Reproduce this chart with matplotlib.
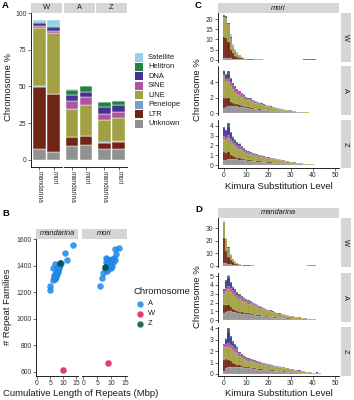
import numpy as np
import matplotlib
matplotlib.use("Agg")
import matplotlib.pyplot as plt
from matplotlib.patches import Rectangle
from matplotlib.lines import Line2D

plt.rcParams['font.family'] = ['Liberation Sans', 'DejaVu Sans']

# ---------------- DATA ----------------
classes = ["Satellite", "Helitron", "DNA", "SINE", "LINE", "Penelope", "LTR", "Unknown"]
class_colors = {"Satellite": "#88CCEE", "Helitron": "#117733", "DNA": "#332288",
                "SINE": "#AA4499", "LINE": "#999933", "Penelope": "#6699CC",
                "LTR": "#661100", "Unknown": "#888888"}

# Panel A: order = W-mandarina, W-mori, A-mandarina, A-mori, Z-mandarina, Z-mori
chrom_facets = ["W", "A", "Z"]
species = ["mandarina", "mori"]
a_unknown = [7.5, 5.5, 9.8, 10.0, 7.5, 7.5]
a_ltr = [42.3, 39.3, 5.5, 6.5, 4.3, 5.0]
a_penelope = [0.2, 0.2, 0.1, 0.1, 0.1, 0.1]
a_line = [40.0, 41.5, 19.5, 20.5, 15.5, 16.0]
a_sine = [1.5, 1.5, 5.0, 5.5, 4.0, 4.0]
a_dna = [1.5, 2.5, 4.5, 3.5, 4.5, 4.5]
a_helitron = [1.0, 0.5, 3.5, 4.0, 3.5, 3.0]
a_satellite = [1.5, 4.5, 0.3, 0.3, 0.2, 0.2]

# Panel B: (cumulative length Mbp, # repeat families)
b_mand_A_x = [13.6, 10.8, 11.4, 6.1, 5.1, 5.1, 9.2, 8.9, 8.5, 8.2, 7.9, 8.1, 7.6, 7.8, 7.4, 7.6, 7.2,
              7.4, 7.0, 6.9, 6.75, 6.1, 8.0, 7.7, 7.1, 6.6, 6.4]
b_mand_A_y = [1557, 1495, 1444, 1294, 1249, 1219, 1418, 1405, 1395, 1385, 1375, 1365, 1358, 1350, 1342,
              1334, 1326, 1318, 1310, 1302, 1412, 1380, 1400, 1372, 1345, 1330, 1312]
b_mand_W = (9.9, 615)
b_mand_Z = (8.6, 1422)
b_mori_A_x = [12.8, 11.5, 11.8, 6.1, 6.7, 7.2, 8.0, 8.5, 9.0, 9.5, 10.2, 10.8, 11.2, 8.3, 9.2, 10.0,
              10.6, 8.6, 9.6, 10.4, 8.8, 9.8, 8.2, 9.0, 7.6, 8.4, 9.4]
b_mori_A_y = [1537, 1525, 1487, 1249, 1307, 1345, 1460, 1450, 1445, 1440, 1452, 1455, 1445, 1430, 1425,
              1420, 1430, 1410, 1405, 1400, 1395, 1385, 1380, 1375, 1372, 1360, 1415]
b_mori_W = (8.8, 665)
b_mori_Z = (7.8, 1390)

# Kimura landscapes (percent of chromosome per substitution-level bin, bins 0,1,2,...)
mori_W_unknown = [1.0, 1.0, 0.9, 0.8, 0.6, 0.5, 0.4, 0.3, 0.25, 0.2, 0.15, 0.12, 0.1, 0.08, 0.07, 0.06, 0.05, 0.05,
                  0.04, 0.04, 0.03, 0.03, 0.03, 0.03, 0.02, 0.02, 0.02, 0.02, 0.02, 0.02, 0.02, 0.02, 0.02, 0.01,
                  0.01, 0.01, 0.01, 0.01, 0.01, 0.01, 0.01, 0.01, 0.01]
mori_W_ltr = [10.4, 9.6, 8.0, 4.1, 2.7, 1.5, 0.9, 0.6, 0.5, 0.35, 0.25, 0.15, 0.1, 0.08, 0.05, 0.04, 0.03, 0.03,
              0.02, 0.02, 0.02, 0.02, 0.02, 0.02, 0.02, 0.02, 0.02, 0.02, 0.02, 0.02, 0.02, 0.02, 0.02, 0.03,
              0.05, 0.08, 0.12, 0.2, 0.3, 0.3, 0.25, 0.2, 0.1, 0.05]
mori_W_line = [9.3, 9.7, 8.2, 5.5, 3.2, 2.6, 1.9, 1.2, 0.6, 0.3, 0.15, 0.1, 0.08, 0.07, 0.06, 0.06, 0.05, 0.05,
               0.05, 0.04, 0.04, 0.04, 0.04, 0.03, 0.03, 0.03, 0.03, 0.03, 0.03, 0.02, 0.02, 0.02, 0.02, 0.02,
               0.02, 0.02, 0.01, 0.01, 0.01, 0.01, 0.01]
mori_W_sine = [0.4, 0.4, 0.3, 0.3, 0.2, 0.1, 0.1, 0.05, 0.05, 0.03, 0.02, 0.02]
mori_W_dna = [0.6, 0.5, 0.5, 0.4, 0.2, 0.1, 0.1, 0.05, 0.05, 0.03, 0.02]
mori_W_helitron = [0.1, 0.1, 0.1, 0.1, 0.05, 0.03, 0.02]
mori_W_satellite = [0.2, 0.2, 0.2, 1.3, 0.6, 0.4, 0.2, 0.1, 0.05, 0.03]

mori_A_unknown = [0.7, 0.8, 0.9, 0.9, 0.9, 0.9, 0.9, 0.85, 0.8, 0.75, 0.7, 0.65, 0.6, 0.55, 0.5, 0.48, 0.45, 0.42,
                  0.4, 0.37, 0.35, 0.32, 0.3, 0.28, 0.26, 0.24, 0.22, 0.2, 0.18, 0.16, 0.15, 0.13, 0.11, 0.1,
                  0.09, 0.08, 0.07, 0.06, 0.05, 0.04, 0.03, 0.03, 0.02, 0.01, 0.01]
mori_A_ltr = [1.3, 1.2, 1.1, 0.6, 0.4, 0.3, 0.25, 0.2, 0.18, 0.15, 0.12, 0.1, 0.08, 0.07, 0.06, 0.05, 0.04, 0.04,
              0.03, 0.03, 0.03, 0.02, 0.02, 0.02, 0.02, 0.02, 0.02, 0.01, 0.01, 0.01, 0.01]
mori_A_line = [2.8, 2.0, 2.1, 2.0, 1.8, 1.6, 1.33, 1.32, 1.15, 1.08, 0.91, 0.92, 0.93, 0.85, 0.8, 0.75, 0.7, 0.65,
               0.58, 0.53, 0.48, 0.43, 0.4, 0.36, 0.32, 0.29, 0.26, 0.23, 0.21, 0.19, 0.17, 0.15, 0.13, 0.11,
               0.1, 0.09, 0.07, 0.06, 0.05, 0.04, 0.03, 0.02, 0.015, 0.01, 0.005]
mori_A_sine = [0.3, 0.4, 0.5, 0.5, 0.5, 0.45, 0.4, 0.35, 0.3, 0.28, 0.25, 0.22, 0.2, 0.18, 0.16, 0.15, 0.13, 0.12,
               0.1, 0.09, 0.08, 0.07, 0.06, 0.05, 0.04, 0.04, 0.03, 0.03, 0.02, 0.02, 0.02, 0.01, 0.01]
mori_A_dna = [0.3, 0.6, 0.5, 0.4, 0.2, 0.15, 0.12, 0.1, 0.1, 0.08, 0.07, 0.06, 0.05, 0.05, 0.04, 0.04, 0.03, 0.03,
              0.03, 0.02, 0.02, 0.02, 0.02, 0.02, 0.01, 0.01, 0.01]
mori_A_helitron = [0.1, 0.1, 0.3, 0.1, 0.1, 0.1, 0.1, 0.08, 0.07, 0.06, 0.05, 0.05, 0.04, 0.04, 0.03, 0.03, 0.02,
                   0.02, 0.02, 0.02, 0.01, 0.01, 0.01]
mori_A_satellite = [0.02, 0.02, 0.02, 0.02, 0.02, 0.02, 0.02, 0.02, 0.02, 0.02, 0.02, 0.02, 0.02, 0.02, 0.02, 0.02,
                    0.03, 0.03, 0.03, 0.03, 0.03, 0.03, 0.03, 0.03, 0.03, 0.02, 0.02, 0.02]

mori_Z_unknown = [0.5, 0.55, 0.6, 0.6, 0.6, 0.6, 0.58, 0.55, 0.52, 0.5, 0.48, 0.45, 0.43, 0.4, 0.38, 0.36, 0.34,
                  0.32, 0.3, 0.28, 0.26, 0.25, 0.23, 0.22, 0.2, 0.19, 0.17, 0.16, 0.14, 0.13, 0.12, 0.1, 0.09, 0.08,
                  0.07, 0.06, 0.05, 0.04, 0.04, 0.03, 0.03, 0.02, 0.02, 0.02, 0.01]
mori_Z_ltr = [0.8, 0.7, 0.75, 0.45, 0.3, 0.2, 0.15, 0.12, 0.1, 0.08, 0.07, 0.06, 0.05, 0.05, 0.04, 0.04, 0.03,
              0.03, 0.03, 0.02, 0.02, 0.02, 0.02, 0.02, 0.01, 0.01, 0.01, 0.01, 0.01, 0.01]
mori_Z_line = [1.4, 1.3, 1.4, 1.3, 1.2, 1.1, 1.05, 1.0, 0.9, 0.8, 0.72, 0.66, 0.64, 0.6, 0.55, 0.52, 0.5, 0.47,
               0.44, 0.42, 0.4, 0.38, 0.36, 0.34, 0.32, 0.3, 0.28, 0.26, 0.24, 0.22, 0.2, 0.18, 0.16, 0.14, 0.12,
               0.1, 0.08, 0.07, 0.06, 0.05, 0.04, 0.03, 0.03, 0.02, 0.01]
mori_Z_sine = [0.3, 0.3, 0.35, 0.35, 0.35, 0.35, 0.3, 0.28, 0.22, 0.2, 0.18, 0.16, 0.15, 0.14, 0.13, 0.12, 0.11,
               0.1, 0.09, 0.08, 0.08, 0.07, 0.06, 0.06, 0.05, 0.05, 0.04, 0.04, 0.03, 0.03, 0.02, 0.02, 0.02,
               0.01, 0.01]
mori_Z_dna = [0.8, 0.7, 0.8, 0.55, 0.35, 0.25, 0.2, 0.15, 0.1, 0.08, 0.06, 0.05, 0.05, 0.04, 0.04, 0.03, 0.03,
              0.03, 0.02, 0.02, 0.02, 0.02, 0.01, 0.01, 0.01]
mori_Z_helitron = [0.1, 0.05, 0.4, 0.15, 0.1, 0.1, 0.1, 0.1, 0.06, 0.05, 0.05, 0.04, 0.04, 0.03, 0.03, 0.03, 0.02,
                   0.02, 0.02, 0.02, 0.01]
mori_Z_satellite = [0.02, 0.02, 0.02, 0.02, 0.02, 0.02, 0.02, 0.02, 0.02, 0.02, 0.02, 0.02, 0.02, 0.02, 0.02,
                    0.02, 0.02, 0.03, 0.03, 0.03, 0.03, 0.03, 0.03, 0.03, 0.03, 0.02, 0.02, 0.02]

mand_W_unknown = [2.0, 2.0, 1.8, 1.5, 1.0, 0.8, 0.6, 0.4, 0.3, 0.2, 0.15, 0.12, 0.1, 0.08, 0.06, 0.05, 0.04, 0.04,
                  0.03, 0.03, 0.03, 0.02, 0.02, 0.02, 0.02, 0.02, 0.02, 0.02, 0.02, 0.02, 0.02, 0.02, 0.01, 0.01,
                  0.01, 0.01, 0.01, 0.01, 0.01, 0.01, 0.01, 0.01, 0.01]
mand_W_ltr = [20.0, 9.5, 5.5, 3.5, 1.8, 1.0, 0.6, 0.4, 0.3, 0.2, 0.15, 0.1, 0.08, 0.06, 0.05, 0.04, 0.03, 0.03,
              0.02, 0.02, 0.02, 0.02, 0.02, 0.02, 0.02, 0.02, 0.02, 0.02, 0.02, 0.02]
mand_W_line = [12.5, 9.3, 7.0, 3.3, 2.2, 1.4, 0.9, 0.6, 0.35, 0.25, 0.2, 0.15, 0.12, 0.1, 0.08, 0.07, 0.06, 0.05,
               0.05, 0.04, 0.04, 0.04, 0.03, 0.03, 0.03, 0.03, 0.02, 0.02, 0.02, 0.02, 0.02, 0.02, 0.02, 0.01,
               0.01, 0.01, 0.01, 0.01, 0.01, 0.01]
mand_W_sine = [0.3, 0.5, 0.3, 0.2, 0.1, 0.05, 0.03, 0.02, 0.0, 0.0, 0.0, 0.0, 0.0, 0.0, 0.0, 0.0, 0.0, 0.0, 0.0,
               0.0, 0.0, 0.0, 0.0, 0.0, 0.0, 0.0, 0.0, 0.0, 0.0, 0.0, 0.0, 0.0, 0.0, 0.0, 0.0, 0.0, 0.0, 0.0,
               0.2, 0.3, 0.2, 0.2, 0.1]
mand_W_dna = [0.5, 0.4, 0.3, 0.2, 0.1, 0.05, 0.03]
mand_W_helitron = [0.1, 0.1, 0.05, 0.05, 0.03]
mand_W_satellite = [0.1, 0.3, 0.1, 0.3, 0.3, 0.2, 0.1, 0.05]

mand_A_unknown = [0.8, 0.9, 1.0, 1.0, 0.95, 0.9, 0.85, 0.8, 0.75, 0.72, 0.7, 0.67, 0.64, 0.6, 0.57, 0.54, 0.5,
                  0.47, 0.44, 0.41, 0.38, 0.36, 0.33, 0.31, 0.28, 0.26, 0.24, 0.22, 0.21, 0.19, 0.18, 0.16, 0.15,
                  0.13, 0.12, 0.11, 0.09, 0.08, 0.07, 0.06, 0.05, 0.04, 0.03, 0.02, 0.01]
mand_A_ltr = [0.9, 0.85, 0.7, 0.5, 0.35, 0.25, 0.2, 0.17, 0.15, 0.13, 0.12, 0.1, 0.09, 0.08, 0.07, 0.06, 0.06,
              0.05, 0.05, 0.04, 0.04, 0.04, 0.03, 0.03, 0.03, 0.03, 0.02, 0.02, 0.02, 0.02, 0.02, 0.01, 0.01,
              0.01, 0.01, 0.01]
mand_A_line = [1.3, 1.6, 1.8, 1.7, 1.65, 1.55, 1.45, 1.4, 1.3, 1.25, 1.2, 1.12, 1.07, 1.02, 0.97, 0.92, 0.86,
               0.8, 0.74, 0.68, 0.62, 0.58, 0.54, 0.5, 0.45, 0.4, 0.37, 0.34, 0.31, 0.28, 0.26, 0.24, 0.22, 0.2,
               0.18, 0.16, 0.14, 0.12, 0.1, 0.09, 0.08, 0.06, 0.04, 0.03, 0.02]
mand_A_sine = [0.3, 0.3, 0.35, 0.4, 0.45, 0.45, 0.4, 0.35, 0.33, 0.3, 0.27, 0.25, 0.23, 0.21, 0.19, 0.17, 0.15,
               0.14, 0.13, 0.12, 0.11, 0.1, 0.09, 0.08, 0.08, 0.07, 0.06, 0.06, 0.05, 0.05, 0.05, 0.04, 0.04,
               0.03, 0.03, 0.03, 0.02, 0.02, 0.02, 0.01, 0.01]
mand_A_dna = [0.2, 0.8, 0.9, 0.6, 0.3, 0.25, 0.2, 0.15, 0.12, 0.1, 0.08, 0.07, 0.06, 0.05, 0.05, 0.04, 0.04,
              0.03, 0.03, 0.03, 0.02, 0.02, 0.02, 0.02, 0.01, 0.01, 0.01, 0.01]
mand_A_helitron = [0.05, 0.05, 0.3, 0.1, 0.1, 0.1, 0.1, 0.08, 0.07, 0.06, 0.05, 0.05, 0.04, 0.04, 0.03, 0.03,
                   0.03, 0.03, 0.02, 0.02, 0.02, 0.01, 0.01]
mand_A_satellite = [0.02, 0.02, 0.02, 0.02, 0.02, 0.02, 0.02, 0.02, 0.02, 0.02, 0.02, 0.02, 0.02, 0.02, 0.02,
                    0.03, 0.03, 0.03, 0.03, 0.03, 0.03, 0.03, 0.03, 0.03, 0.03, 0.03, 0.03, 0.02, 0.02, 0.02]

mand_Z_unknown = [0.3, 0.5, 0.6, 0.65, 0.65, 0.65, 0.62, 0.6, 0.57, 0.55, 0.52, 0.5, 0.48, 0.45, 0.43, 0.41,
                  0.39, 0.37, 0.35, 0.33, 0.32, 0.3, 0.29, 0.27, 0.26, 0.24, 0.23, 0.21, 0.2, 0.18, 0.17, 0.15,
                  0.14, 0.12, 0.11, 0.1, 0.08, 0.07, 0.06, 0.05, 0.05, 0.04, 0.03, 0.02, 0.01]
mand_Z_ltr = [0.95, 0.8, 0.6, 0.45, 0.35, 0.25, 0.2, 0.15, 0.12, 0.1, 0.08, 0.07, 0.06, 0.05, 0.05, 0.04, 0.04,
              0.03, 0.03, 0.03, 0.03, 0.02, 0.02, 0.02, 0.02, 0.02, 0.02, 0.02, 0.01, 0.01, 0.01]
mand_Z_line = [1.1, 1.1, 1.2, 1.15, 1.1, 1.05, 1.0, 0.8, 0.7, 0.65, 0.62, 0.58, 0.56, 0.54, 0.52, 0.5, 0.48,
               0.46, 0.44, 0.42, 0.4, 0.39, 0.37, 0.35, 0.34, 0.32, 0.31, 0.29, 0.27, 0.26, 0.24, 0.22, 0.2,
               0.18, 0.16, 0.15, 0.13, 0.11, 0.09, 0.08, 0.06, 0.05, 0.04, 0.03, 0.02]
mand_Z_sine = [0.15, 0.25, 0.3, 0.3, 0.35, 0.35, 0.33, 0.25, 0.22, 0.2, 0.18, 0.16, 0.15, 0.14, 0.13, 0.12, 0.11,
               0.1, 0.1, 0.09, 0.09, 0.08, 0.08, 0.07, 0.07, 0.06, 0.06, 0.05, 0.05, 0.05, 0.04, 0.04, 0.03,
               0.03, 0.03, 0.02, 0.02, 0.02, 0.01, 0.01]
mand_Z_dna = [0.1, 0.4, 1.0, 0.65, 0.3, 0.2, 0.15, 0.1, 0.08, 0.06, 0.05, 0.05, 0.04, 0.04, 0.03, 0.03, 0.03,
              0.02, 0.02, 0.02, 0.02, 0.02, 0.01, 0.01, 0.01, 0.01, 0.01, 0.01, 0.01, 0.01, 0.01, 0.01, 0.01,
              0.01, 0.01, 0.01, 0.01, 0.01, 0.01, 0.01, 0.01, 0.01, 0.08, 0.05]
mand_Z_helitron = [0.02, 0.05, 0.3, 0.1, 0.1, 0.1, 0.1, 0.05, 0.04, 0.04, 0.05, 0.04, 0.04, 0.03, 0.03, 0.03,
                   0.02, 0.02, 0.02, 0.02, 0.02, 0.01, 0.01]
mand_Z_satellite = [0.02, 0.02, 0.02, 0.02, 0.02, 0.02, 0.02, 0.02, 0.02, 0.02, 0.02, 0.02, 0.02, 0.02, 0.02,
                    0.02, 0.03, 0.03, 0.03, 0.03, 0.03, 0.03, 0.03, 0.02, 0.02, 0.02]

# ---------------- LAYOUT HELPERS ----------------
W_PX, H_PX = 354, 400
fig = plt.figure(figsize=(W_PX / 100, H_PX / 100), dpi=100)
fig.patch.set_facecolor("white")

TICK_FS = 4.9
LAB_FS = 6.8
STRIP_FS = 5.4
LEG_FS = 5.4


def rect(x0, y0, x1, y1):
    return [x0 / W_PX, 1 - y1 / H_PX, (x1 - x0) / W_PX, (y1 - y0) / H_PX]


def fx(x):
    return x / W_PX


def fy(y):
    return 1 - y / H_PX


def style_ax(ax, left=True, bottom=True):
    for s in ["top", "right"]:
        ax.spines[s].set_visible(False)
    ax.spines["left"].set_visible(left)
    ax.spines["bottom"].set_visible(bottom)
    for s in ["left", "bottom"]:
        ax.spines[s].set_linewidth(0.6)
    ax.tick_params(axis="both", labelsize=TICK_FS, length=2, width=0.5, pad=1.2, colors="#333333",
                   labelcolor="#333333")
    if not left:
        ax.tick_params(axis="y", left=False, labelleft=False)
    if not bottom:
        ax.tick_params(axis="x", bottom=False, labelbottom=False)
    ax.set_facecolor("white")


def strip(x0, y0, x1, y1, text, italic=False, rotate=False):
    sa = fig.add_axes(rect(x0, y0, x1, y1))
    sa.set_facecolor("#D6D6D6")
    for s in sa.spines.values():
        s.set_visible(False)
    sa.set_xticks([])
    sa.set_yticks([])
    sa.text(0.5, 0.5, text, ha="center", va="center", fontsize=STRIP_FS, color="#1a1a1a",
            style="italic" if italic else "normal", rotation=-90 if rotate else 0,
            transform=sa.transAxes)


# ---------------- PANEL A ----------------
a_stack = [("Unknown", a_unknown), ("LTR", a_ltr), ("Penelope", a_penelope), ("LINE", a_line),
           ("SINE", a_sine), ("DNA", a_dna), ("Helitron", a_helitron), ("Satellite", a_satellite)]
a_facet_px = [(31, 62), (63.5, 94.5), (96, 127)]
for fi, ch in enumerate(chrom_facets):
    x0, x1 = a_facet_px[fi]
    ax = fig.add_axes(rect(x0, 12.6, x1, 167))
    style_ax(ax, left=(fi == 0))
    bottom = np.zeros(2)
    for name, vals in a_stack:
        v = np.array(vals[2 * fi:2 * fi + 2])
        ax.bar([0, 1], v, width=0.88, bottom=bottom, color=class_colors[name], alpha=0.92,
               edgecolor="white", linewidth=0.35)
        bottom += v
    ax.set_xlim(-0.6, 1.6)
    ax.set_ylim(-4.8, 100.3)
    ax.set_xticks([0, 1])
    ax.set_xticklabels(species, rotation=-90, va="top", ha="center")
    if fi == 0:
        ax.set_yticks([0, 25, 50, 75, 100])
    strip(x0, 3, x1, 12.6, ch)

fig.text(fx(9), fy(87), "Chromosome %", rotation=90, ha="center", va="center", fontsize=LAB_FS,
         color="#1a1a1a")
fig.text(fx(2), fy(5), "A", fontsize=6.8, fontweight="bold", ha="left", va="center")

# legend A
leg_y0 = 57.5
for i, name in enumerate(classes):
    y = leg_y0 + i * 9.45
    fig.patches.append(Rectangle((fx(135), fy(y + 4)), 8 / W_PX, 8 / H_PX, transform=fig.transFigure,
                                 facecolor=class_colors[name], alpha=0.92, edgecolor="none"))
    fig.text(fx(148), fy(y), name, fontsize=LEG_FS, ha="left", va="center", color="#1a1a1a")

# ---------------- PANEL B ----------------
col_A, col_W, col_Z = "#1E88E5", "#D81B60", "#004D40"
b_sets = [("mandarina", b_mand_A_x, b_mand_A_y, b_mand_W, b_mand_Z, (36, 78)),
          ("mori", b_mori_A_x, b_mori_A_y, b_mori_W, b_mori_Z, (82, 127))]
for bi, (sp, ax_x, ax_y, wpt, zpt, (x0, x1)) in enumerate(b_sets):
    ax = fig.add_axes(rect(x0, 239, x1, 376))
    style_ax(ax, left=(bi == 0))
    ax.scatter(ax_x, ax_y, s=22, color=col_A, alpha=0.85, linewidths=0, zorder=3)
    ax.scatter([wpt[0]], [wpt[1]], s=22, color=col_W, alpha=0.85, linewidths=0, zorder=3)
    ax.scatter([zpt[0]], [zpt[1]], s=22, color=col_Z, alpha=0.9, linewidths=0, zorder=4)
    ax.set_xlim(-0.4, 15.6)
    ax.set_ylim(566, 1602)
    ax.set_xticks([0, 5, 10, 15])
    if bi == 0:
        ax.set_yticks([600, 800, 1000, 1200, 1400, 1600])
    strip(x0, 228.5, x1, 239, sp, italic=True)

fig.text(fx(8), fy(307), "# Repeat Families", rotation=90, ha="center", va="center", fontsize=LAB_FS,
         color="#1a1a1a")
fig.text(fx(81), fy(393), "Cumulative Length of Repeats (Mbp)", ha="center", va="center", fontsize=LAB_FS,
         color="#1a1a1a")
fig.text(fx(2), fy(213), "B", fontsize=6.8, fontweight="bold", ha="left", va="center")

fig.text(fx(134), fy(292), "Chromosome", fontsize=6.8, ha="left", va="center", color="#1a1a1a")
for i, (lab, c) in enumerate([("A", col_A), ("W", col_W), ("Z", col_Z)]):
    y = 303.5 + i * 10
    fig.lines.append(Line2D([fx(140)], [fy(y)], marker="o", markersize=4.6, color=c, alpha=0.85,
                            markeredgewidth=0, linestyle="none", transform=fig.transFigure))
    fig.text(fx(148), fy(y), lab, fontsize=LEG_FS, ha="left", va="center", color="#1a1a1a")

# ---------------- PANELS C & D ----------------
stack_order = ["Unknown", "LTR", "LINE", "SINE", "DNA", "Helitron", "Satellite"]


def kimura(ax, series):
    n = max(len(s) for s in series)
    bottom = np.zeros(n)
    for name, vals in zip(stack_order, series):
        v = np.zeros(n)
        v[:len(vals)] = vals
        ax.bar(np.arange(n), v, width=1.0, bottom=bottom, color=class_colors[name], alpha=0.92,
               edgecolor="white", linewidth=0.08)
        bottom += v


C_rows = [("W", [mori_W_unknown, mori_W_ltr, mori_W_line, mori_W_sine, mori_W_dna, mori_W_helitron,
                 mori_W_satellite], (13, 62), (-1.1, 23.0), [0, 5, 10, 15, 20]),
          ("A", [mori_A_unknown, mori_A_ltr, mori_A_line, mori_A_sine, mori_A_dna, mori_A_helitron,
                 mori_A_satellite], (66, 115), (-0.24, 6.1), [0, 2, 4]),
          ("Z", [mori_Z_unknown, mori_Z_ltr, mori_Z_line, mori_Z_sine, mori_Z_dna, mori_Z_helitron,
                 mori_Z_satellite], (120, 168), (-0.3, 4.6), [0, 1, 2, 3, 4])]
D_rows = [("W", [mand_W_unknown, mand_W_ltr, mand_W_line, mand_W_sine, mand_W_dna, mand_W_helitron,
                 mand_W_satellite], (218, 267), (-1.0, 38.3), [0, 10, 20, 30]),
          ("A", [mand_A_unknown, mand_A_ltr, mand_A_line, mand_A_sine, mand_A_dna, mand_A_helitron,
                 mand_A_satellite], (273, 322), (-0.19, 5.34), [0, 1, 2, 3, 4, 5]),
          ("Z", [mand_Z_unknown, mand_Z_ltr, mand_Z_line, mand_Z_sine, mand_Z_dna, mand_Z_helitron,
                 mand_Z_satellite], (327, 376), (-0.18, 4.12), [0, 1, 2, 3, 4])]

for sp, rows, top_strip, ylab_y, xlab_y in [("mori", C_rows, (3, 13), 90, 186),
                                           ("mandarina", D_rows, (208, 218), 297, 393)]:
    for ri, (ch, series, (y0, y1), ylim, yticks) in enumerate(rows):
        ax = fig.add_axes(rect(218, y0, 339, y1))
        style_ax(ax, left=True, bottom=(ri == 2))
        kimura(ax, series)
        ax.set_xlim(-2.7, 51.8)
        ax.set_ylim(*ylim)
        ax.set_yticks(yticks)
        ax.set_xticks([0, 10, 20, 30, 40, 50])
        strip(341, y0, 350.5, y1, ch, rotate=True)
    strip(218, top_strip[0], 339, top_strip[1], sp, italic=True)
    fig.text(fx(198), fy(ylab_y), "Chromsome %", rotation=90, ha="center", va="center", fontsize=LAB_FS,
             color="#1a1a1a")
    fig.text(fx(279), fy(xlab_y), "Kimura Substitution Level", ha="center", va="center", fontsize=LAB_FS,
             color="#1a1a1a")

fig.text(fx(195), fy(5), "C", fontsize=6.8, fontweight="bold", ha="left", va="center")
fig.text(fx(195), fy(210), "D", fontsize=6.8, fontweight="bold", ha="left", va="center")

fig.savefig("out.png", dpi=100, facecolor="white")
